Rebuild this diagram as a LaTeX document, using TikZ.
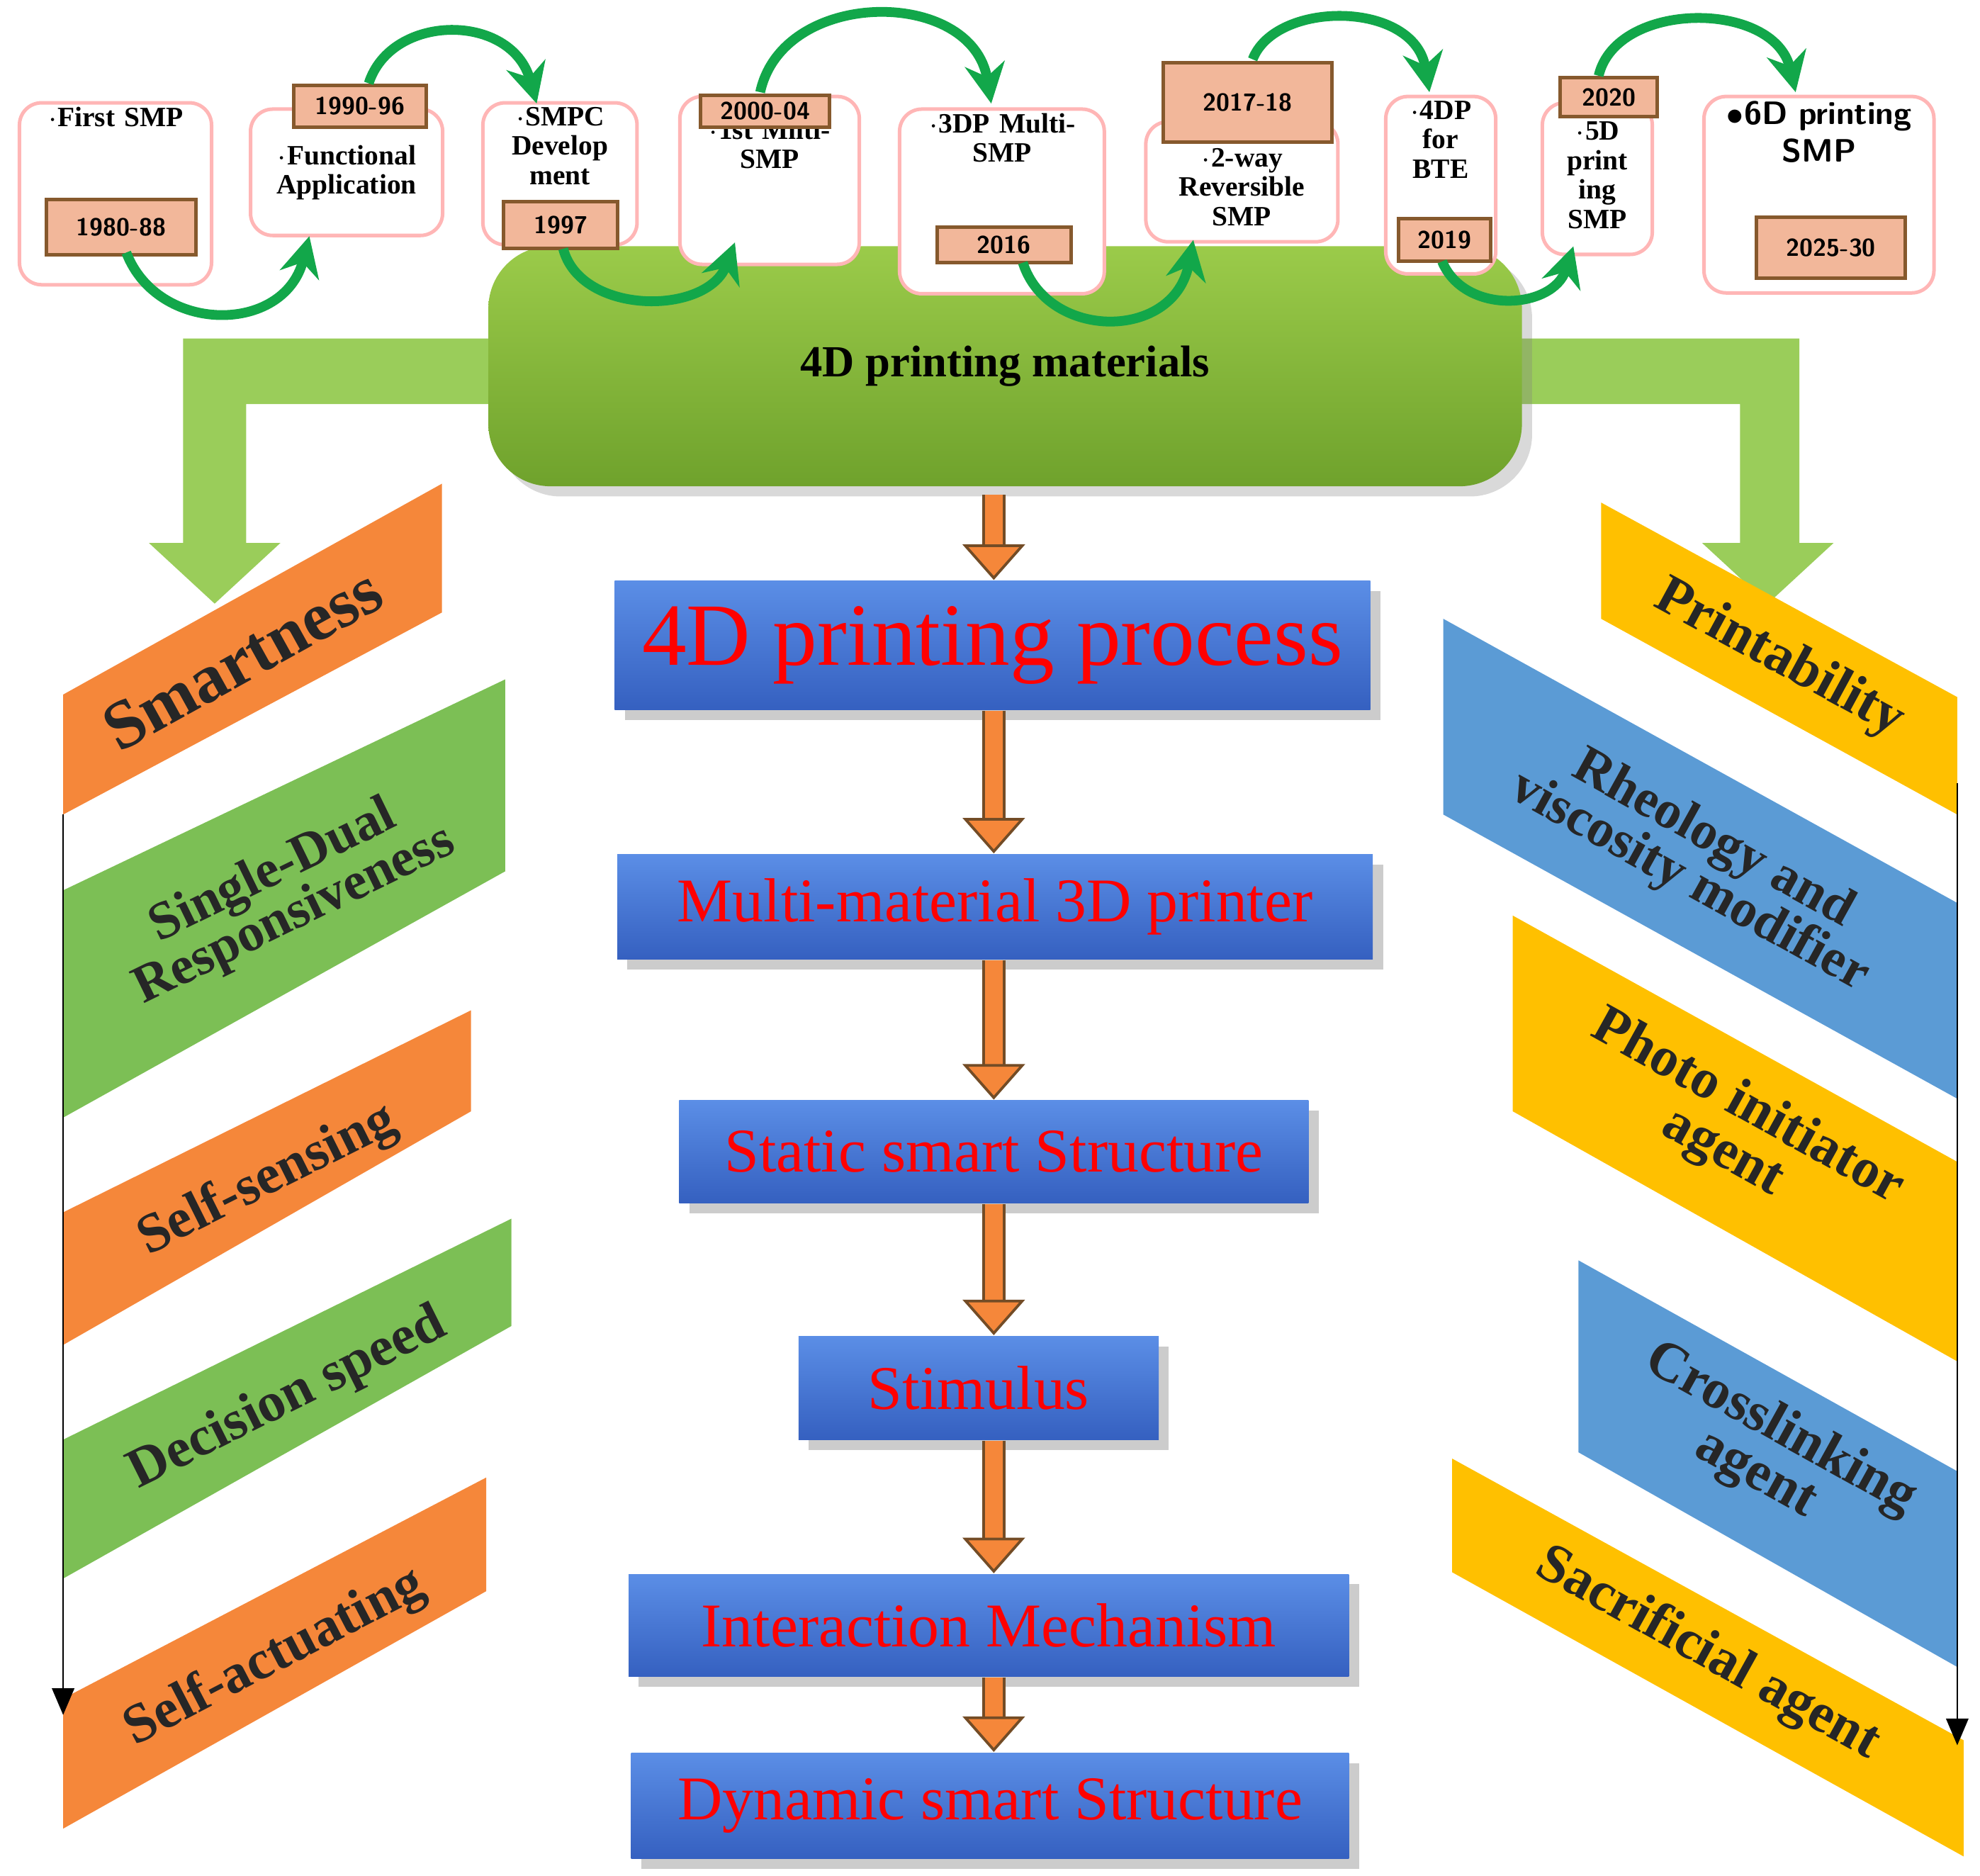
\documentclass[tikz,border=0pt]{standalone}
\usepackage{fontspec}
\setmainfont{Liberation Serif}
\usetikzlibrary{arrows.meta,shadows}
\definecolor{bandorange}{HTML}{F5873A}
\definecolor{bandgreen}{HTML}{7CBF55}
\definecolor{bandyellow}{HTML}{FFC000}
\definecolor{bandblue}{HTML}{5B9BD5}
\definecolor{tagfill}{HTML}{F2B79A}
\definecolor{arcgreen}{HTML}{12A74A}
\definecolor{bartop}{HTML}{9BCB4A}
\definecolor{barbot}{HTML}{6FA22C}
\definecolor{sidegreen}{HTML}{9ACD5A}
\definecolor{steptop}{HTML}{5B8EE6}
\definecolor{stepbot}{HTML}{3560C0}
\tikzset{
  yearbox/.style={draw=pink!70!red!60,rounded corners=5pt,fill=white,line width=0.8pt,
    align=center,font=\bfseries\fontsize{6.3}{6.6}\selectfont,inner sep=1pt},
  yeartag/.style={draw=brown!70!black,fill=tagfill,line width=0.8pt,
    font=\bfseries\sffamily\fontsize{5.5}{6}\selectfont,inner sep=0pt},
  timearc/.style={arcgreen,line width=2.2pt,-{Stealth[length=9pt,width=9pt]}},
  stepbox/.style={top color=steptop,bottom color=stepbot,
    text=red,drop shadow={opacity=0.4},inner sep=0pt},
  flow/.style={draw=brown!60!black,line width=0.6pt,
    double=bandorange,double distance=4pt,-{Triangle[length=8pt,width=14pt,fill=bandorange]}},
  bandtext/.style={font=\bfseries\fontsize{12.5}{12.5}\selectfont,align=center,text=black!85}
}
\begin{document}
\begin{tikzpicture}[x=0.01cm,y=-0.01cm]
\useasboundingbox (0,0) rectangle (1568,1485);

% side arrows from the materials bar
\fill[sidegreen] (390,268) -- (145,268) -- (145,430) -- (118,430) -- (170,478)
   -- (222,430) -- (195,430) -- (195,320) -- (390,320) -- cycle;
\fill[sidegreen] (1200,268) -- (1425,268) -- (1425,430) -- (1452,430) -- (1400,478)
   -- (1348,430) -- (1378,430) -- (1378,320) -- (1200,320) -- cycle;

% materials bar
\node[rounded corners=14pt,minimum width=8.18cm,minimum height=1.9cm,
  top color=bartop,bottom color=barbot,drop shadow={opacity=0.3},
  font=\bfseries\fontsize{10}{11}\selectfont] (mat) at (796,290) {4D printing materials};

% timeline boxes
\node[yearbox,minimum width=1.52cm,minimum height=1.02cm,anchor=north west,text width=1.45cm] (b1) at (14,80) {$\cdot$First SMP\\[28pt]~};
\node[yearbox,minimum width=1.51cm,minimum height=1cm,anchor=north west,text width=1.45cm] (b2) at (197,85) {~\\[-2pt]$\cdot$Functional\\Application};
\node[yearbox,minimum width=1.21cm,minimum height=1cm,anchor=north west,text width=1.15cm] (b3) at (381,80) {$\cdot$SMPC\\Develop\\ment\\[6pt]~};
\node[yearbox,minimum width=1.41cm,minimum height=1.13cm,anchor=north west,text width=1.35cm] (b4) at (537,75) {~\\[2pt]$\cdot$1st Milti-\\SMP\\[14pt]~};
\node[yearbox,minimum width=1.61cm,minimum height=1cm,anchor=north west,text width=1.55cm] (b5) at (711,85) {$\cdot$3DP Multi-\\SMP\\[22pt]~};
\node[yearbox,minimum width=1.52cm,minimum height=0.95cm,anchor=north west,text width=1.45cm] (b6) at (906,95) {~\\[0pt]$\cdot$2-way\\Reversible\\SMP};
\node[yearbox,minimum width=0.84cm,minimum height=1.15cm,anchor=north west,text width=0.8cm] (b7) at (1096,75) {$\cdot$4DP\\for\\BTE\\[14pt]~};
\node[yearbox,minimum width=0.83cm,minimum height=1.2cm,anchor=north west,text width=0.8cm] (b8) at (1220,80) {~\\[-4pt]$\cdot$5D\\print\\ing\\SMP};
\node[yearbox,minimum width=1.8cm,minimum height=1.15cm,anchor=north west,text width=1.75cm,
  font=\bfseries\sffamily\fontsize{7.3}{8.5}\selectfont] (b9) at (1348,75) {$\bullet$6D printing\\SMP\\[20pt]~};

\node[yeartag,minimum width=1.18cm,minimum height=0.44cm] (t1) at (96,180) {1980-88};
\node[yeartag,minimum width=1.05cm,minimum height=0.33cm] (t2) at (285,84) {1990-96};
\node[yeartag,minimum width=0.9cm,minimum height=0.37cm] (t3) at (444,178) {1997};
\node[yeartag,minimum width=1.02cm,minimum height=0.25cm] (t4) at (606,88) {2000-04};
\node[yeartag,minimum width=1.06cm,minimum height=0.28cm] (t5) at (795,194) {2016};
\node[yeartag,minimum width=1.33cm,minimum height=0.63cm] (t6) at (988,81) {2017-18};
\node[yeartag,minimum width=0.73cm,minimum height=0.34cm] (t7) at (1144,190) {2019};
\node[yeartag,minimum width=0.77cm,minimum height=0.31cm] (t8) at (1274,77) {2020};
\node[yeartag,minimum width=1.18cm,minimum height=0.48cm] (t9) at (1450,196) {2025-30};

% green arcs
\draw[timearc] (100,200) .. controls (125,265) and (225,265) .. (245,187);
\draw[timearc] (292,66) .. controls (310,10) and (405,10) .. (425,82);
\draw[timearc] (446,197) .. controls (460,250) and (560,250) .. (582,192);
\draw[timearc] (602,73) .. controls (620,-10) and (770,-10) .. (785,82);
\draw[timearc] (810,208) .. controls (830,270) and (930,270) .. (945,190);
\draw[timearc] (992,47) .. controls (1010,0) and (1120,0) .. (1132,73);
\draw[timearc] (1142,207) .. controls (1160,250) and (1230,245) .. (1246,195);
\draw[timearc] (1266,60) .. controls (1280,0) and (1405,0) .. (1422,73);

% process chain
\node[stepbox,minimum width=5.98cm,minimum height=1.02cm,font=\fontsize{20}{20}\selectfont] (p1) at (786,511) {4D printing process};
\node[stepbox,minimum width=5.98cm,minimum height=0.83cm,font=\fontsize{14}{14}\selectfont] (p2) at (788,718) {Multi-material 3D printer};
\node[stepbox,minimum width=4.98cm,minimum height=0.81cm,font=\fontsize{14}{14}\selectfont] (p3) at (787,912) {Static smart Structure};
\node[stepbox,minimum width=2.85cm,minimum height=0.82cm,font=\fontsize{14}{14}\selectfont] (p4) at (775,1099) {Stimulus};
\node[stepbox,minimum width=5.7cm,minimum height=0.81cm,font=\fontsize{14}{14}\selectfont] (p5) at (783,1287) {Interaction Mechanism};
\node[stepbox,minimum width=5.68cm,minimum height=0.84cm,font=\fontsize{14}{14}\selectfont] (p6) at (784,1430) {Dynamic smart Structure};
\coordinate (top) at (787,392);
\draw[flow] (top) -- (top |- p1.north);
\draw[flow] (p1.south -| top) -- (p2.north -| top);
\draw[flow] (p2.south -| top) -- (p3.north -| top);
\draw[flow] (p3.south -| top) -- (p4.north -| top);
\draw[flow] (p4.south -| top) -- (p5.north -| top);
\draw[flow] (p5.south -| top) -- (p6.north -| top);

% smartness bands (left)
\fill[bandorange] (50,550) -- (350,383) -- (350,485) -- (50,645) -- cycle;
\fill[bandgreen] (50,705) -- (400,538) -- (400,690) -- (50,885) -- cycle;
\fill[bandorange] (50,960) -- (373,800) -- (373,880) -- (50,1065) -- cycle;
\fill[bandgreen] (50,1140) -- (405,965) -- (405,1050) -- (50,1250) -- cycle;
\fill[bandorange] (50,1345) -- (385,1170) -- (385,1260) -- (50,1448) -- cycle;
\node[bandtext,rotate=29,font=\bfseries\fontsize{15.5}{15.5}\selectfont] (l1) at (192,522) {Smartness};
\node[bandtext,rotate=26,font=\bfseries\fontsize{12}{12}\selectfont] (l2) at (225,708) {Single-Dual\\[-1pt]Responsiveness};
\node[bandtext,rotate=26.5] (l3) at (212,935) {Self-sensing};
\node[bandtext,rotate=26.5] (l4) at (228,1108) {Decision speed};
\node[bandtext,rotate=27.5] (l5) at (218,1313) {Self-actuating};
\coordinate (lA) at (50,645);
\coordinate (lB) at (50,1358);
\draw[-{Triangle[length=6pt,width=5pt]}] (lA) -- (lB);

% material bands (right)
\fill[bandyellow] (1268,398) -- (1550,552) -- (1550,645) -- (1268,490) -- cycle;
\fill[bandblue] (1143,490) -- (1550,715) -- (1550,870) -- (1143,645) -- cycle;
\fill[bandyellow] (1198,725) -- (1550,920) -- (1550,1078) -- (1198,880) -- cycle;
\fill[bandblue] (1250,998) -- (1550,1165) -- (1550,1320) -- (1250,1150) -- cycle;
\fill[bandyellow] (1150,1155) -- (1555,1378) -- (1555,1470) -- (1150,1245) -- cycle;
\node[bandtext,rotate=-28.5] (r1) at (1409,522) {Printability};
\node[bandtext,rotate=-29,font=\bfseries\fontsize{12}{12}\selectfont] (r2) at (1347,682) {Rheology and\\[-1pt]viscosity modifier};
\node[bandtext,rotate=-29] (r3) at (1374,895) {Photo initiator\\[-1pt]agent};
\node[bandtext,rotate=-29] (r4) at (1400,1150) {Crosslinking\\[-1pt]agent};
\node[bandtext,rotate=-29] (r5) at (1352,1310) {Sacrificial agent};
\coordinate (rA) at (1550,620);
\coordinate (rB) at (1550,1382);
\draw[-{Triangle[length=6pt,width=5pt]}] (rA) -- (rB);
\end{tikzpicture}
\end{document}
